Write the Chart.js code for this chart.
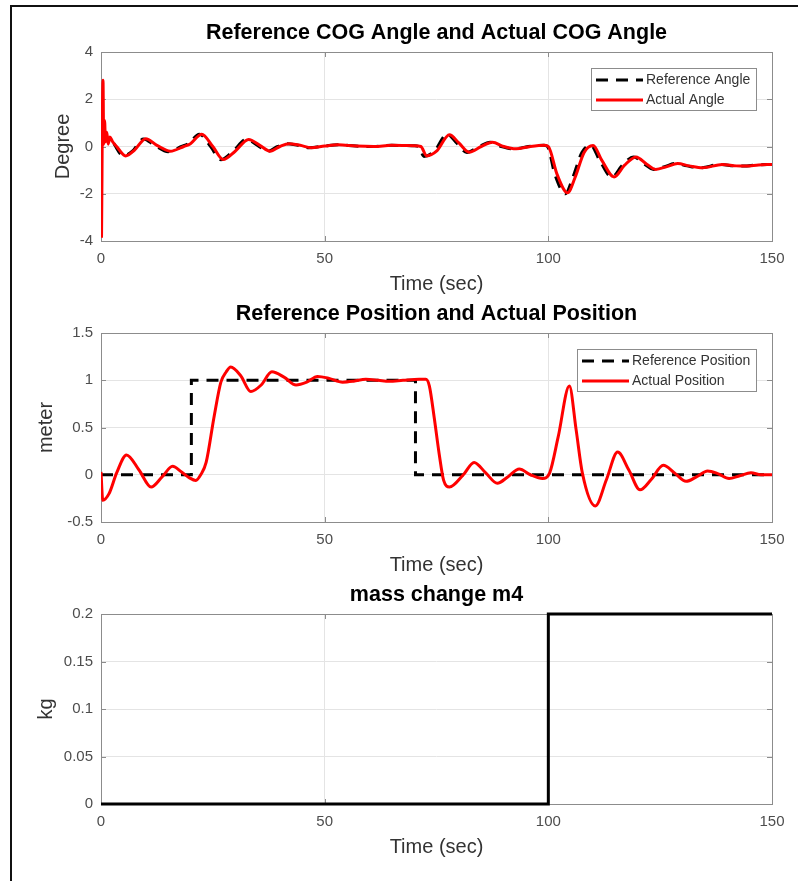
<!DOCTYPE html>
<html>
<head>
<meta charset="utf-8">
<script src="https://cdn.jsdelivr.net/npm/chart.js@4.4.0/dist/chart.umd.min.js"></script>
<style>
  html, body { margin: 0; padding: 0; background: #fff; }
  body { width: 798px; height: 881px; position: relative; overflow: hidden; }
  #frame { position: absolute; left: 10px; top: 5px; right: -5px; bottom: -5px;
           border-left: 2px solid #111; border-top: 2px solid #111; }
  canvas { position: absolute; left: 0; }
</style>
</head>
<body>
<div id="frame"></div>
<canvas id="cog" width="798" height="290" style="top:11px"></canvas>
<canvas id="pos" width="798" height="290" style="top:292px"></canvas>
<canvas id="mass" width="798" height="291" style="top:573px"></canvas>
<script>
// time axis (sec)
const timeTicks = [0, 50, 100, 150];

// COG angle (degree)
const angleRefT = [0, 1, 2.5, 5, 7, 9.5, 12, 15, 18, 19.5, 22, 24.5, 26.8, 29.5, 32.5, 35, 37.3, 39.5, 41.5, 44, 46.5, 50, 53, 57, 61, 65, 70, 71, 72.2, 74.5, 77.4, 79.5, 81.8, 84.5, 87, 89.5, 92.3, 95.5, 99, 99.8, 101.5, 103.8, 105.5, 107.5, 109.5, 111.5, 114.2, 116.5, 119.1, 121.5, 123.5, 126, 128.4, 131, 134, 138.4, 141.5, 143.7, 146.5, 150];
const angleRefV = [0, 0.35, 0.2, -0.4, -0.2, 0.32, 0.05, -0.22, 0, 0.12, 0.52, 0, -0.56, -0.2, 0.3, 0.05, -0.2, 0, 0.12, 0.05, -0.05, 0.02, 0.07, 0.02, 0, 0.05, 0.03, 0, -0.42, -0.2, 0.52, 0.15, -0.25, 0, 0.18, 0, -0.1, 0, 0.05, 0, -1.2, -2.0, -1.3, -0.25, 0.05, -0.6, -1.3, -0.8, -0.44, -0.75, -0.97, -0.85, -0.72, -0.82, -0.9, -0.76, -0.82, -0.83, -0.78, -0.76];
const angleActT = [0, 0.12, 0.3, 0.45, 0.6, 0.8, 1.0, 1.3, 1.6, 2.0, 2.6, 3.5, 5.5, 7.5, 10, 12.5, 15.5, 18.5, 20, 22.5, 25, 27.3, 30, 33, 35.5, 37.8, 40, 42, 44.5, 47, 50, 53, 57, 61, 65, 70, 71.5, 72.8, 75, 77.9, 80, 82.3, 85, 87.5, 90, 92.8, 96, 99.2, 100, 102, 104.3, 106, 108, 110, 112, 114.7, 117, 119.6, 122, 124, 126.5, 128.9, 131.5, 134.5, 138.9, 142, 144.2, 147, 150];
const angleActV = [0, -3.8, 1.2, 2.8, 0.1, 1.1, 0.2, 0.6, 0.1, 0.4, 0.2, 0, -0.4, -0.15, 0.33, 0.05, -0.2, 0, 0.12, 0.52, 0, -0.55, -0.2, 0.3, 0.05, -0.2, 0, 0.12, 0.05, -0.05, 0.02, 0.07, 0.02, 0, 0.05, 0.03, 0, -0.4, -0.2, 0.5, 0.15, -0.24, 0, 0.18, 0, -0.1, 0, 0.05, 0, -1.2, -1.96, -1.3, -0.25, 0.04, -0.6, -1.29, -0.8, -0.44, -0.75, -0.97, -0.85, -0.72, -0.82, -0.9, -0.76, -0.82, -0.83, -0.78, -0.76];

// position (meter)
const posRefT = [0, 20.2, 20.2, 70.3, 70.3, 150];
const posRefV = [0, 0, 1, 1, 0, 0];
const posActT = [0, 0.4, 1.8, 3.5, 5.7, 8.5, 11.2, 13.7, 16, 18, 19.7, 21.2, 22.3, 23.5, 25.3, 26.8, 28, 29, 31.2, 33.5, 35.8, 38.2, 41, 43.6, 46, 48.4, 51, 54, 56.5, 59.2, 62, 64.4, 67.5, 71.1, 72.6, 73.4, 74.5, 75.6, 76.6, 77.9, 81, 83.4, 86, 88.6, 91, 93.5, 96, 98.7, 100.3, 102.2, 104.7, 106.2, 107.6, 110.5, 113, 115.5, 118, 120.5, 123, 125.7, 128.2, 130.8, 133.2, 135.6, 138, 140.4, 142.8, 145.3, 147.5, 150];
const posActV = [0.03, -0.27, -0.2, 0.02, 0.21, 0.05, -0.13, -0.02, 0.09, 0.03, -0.03, -0.06, 0, 0.13, 0.62, 0.98, 1.09, 1.14, 1.05, 0.88, 0.95, 1.09, 1.03, 0.95, 0.98, 1.04, 1.02, 0.98, 0.99, 1.01, 1, 0.99, 1, 1.01, 1.01, 0.94, 0.6, 0.22, -0.06, -0.13, 0, 0.13, 0.02, -0.09, -0.02, 0.06, 0, -0.04, 0.02, 0.4, 0.94, 0.48, 0.02, -0.33, -0.05, 0.24, 0.05, -0.16, -0.05, 0.1, 0.02, -0.07, -0.02, 0.04, 0.01, -0.04, -0.01, 0.02, 0, 0];

// mass change m4 (kg)
const massT = [0, 100, 100, 150];
const massV = [0, 0, 0.2, 0.2];

const FONT = '"Liberation Sans", Arial, Helvetica, sans-serif';
Chart.defaults.font.family = FONT;
Chart.defaults.animation = false;

const xy = (t, v) => t.map((x, i) => ({x, y: v[i]}));
const fmt = v => String(+v.toFixed(2));

// MATLAB-like axes box with inner ticks (under the lines) and a boxed legend (on top)
const axesBox = {
  id: 'axesBox',
  beforeDatasetsDraw(chart) {
    const {ctx, chartArea: a, scales} = chart;
    ctx.save();
    ctx.strokeStyle = '#8c8c8c';
    ctx.lineWidth = 1;
    ctx.beginPath();
    scales.y.ticks.forEach(t => {
      const p = Math.round(scales.y.getPixelForValue(t.value)) + 0.5;
      ctx.moveTo(a.left, p); ctx.lineTo(a.left + 5, p);
      ctx.moveTo(a.right - 5, p); ctx.lineTo(a.right, p);
    });
    scales.x.ticks.forEach(t => {
      const p = Math.round(scales.x.getPixelForValue(t.value)) + 0.5;
      ctx.moveTo(p, a.bottom); ctx.lineTo(p, a.bottom - 5);
      ctx.moveTo(p, a.top); ctx.lineTo(p, a.top + 5);
    });
    ctx.stroke();
    ctx.strokeRect(Math.round(a.left) + 0.5, Math.round(a.top) + 0.5,
                   Math.round(a.right - a.left), Math.round(a.bottom - a.top));
    ctx.restore();
  },
  afterDraw(chart, args, opts) {
    if (!opts.legend) return;
    const {ctx, chartArea: a} = chart;
    const sets = chart.data.datasets;
    ctx.save();
    ctx.font = '14px ' + FONT;
    const textW = Math.max(...sets.map(d => ctx.measureText(d.label).width));
    const w = 5 + 47 + 3 + textW + 6, h = sets.length * 20 + 2;
    const x0 = Math.round(a.right - 16 - w), y0 = Math.round(a.top + 16);
    ctx.fillStyle = '#fff';
    ctx.fillRect(x0, y0, w, h);
    ctx.strokeStyle = '#8c8c8c';
    ctx.lineWidth = 1;
    ctx.strokeRect(x0 + 0.5, y0 + 0.5, Math.round(w), h);
    sets.forEach((d, i) => {
      const cy = y0 + 12 + i * 20;
      ctx.beginPath();
      ctx.setLineDash(d.borderDash || []);
      ctx.strokeStyle = d.borderColor;
      ctx.lineWidth = d.borderWidth;
      ctx.moveTo(x0 + 5, cy); ctx.lineTo(x0 + 52, cy);
      ctx.stroke();
      ctx.setLineDash([]);
      ctx.fillStyle = '#333';
      ctx.textAlign = 'left';
      ctx.textBaseline = 'middle';
      ctx.fillText(d.label, x0 + 55, cy);
    });
    ctx.restore();
  }
};

const refLine = (label, data, smooth) => ({
  label, data, order: 2,
  borderColor: '#000', borderWidth: 3, borderDash: [12, 8],
  pointRadius: 0, tension: 0, cubicInterpolationMode: smooth ? 'monotone' : 'default'
});
const actLine = (label, data) => ({
  label, data, order: 1,
  borderColor: '#ff0000', borderWidth: 3,
  pointRadius: 0, cubicInterpolationMode: 'monotone'
});

function config(title, yLabel, yTitlePad, y, datasets, legend) {
  return {
    type: 'line',
    data: {datasets},
    options: {
      responsive: false,
      events: [],
      layout: {padding: {top: 0, left: 0, right: 26, bottom: 0}},
      plugins: {
        legend: {display: false},
        tooltip: {enabled: false},
        title: {
          display: true, text: title, color: '#000', fullSize: false,
          font: {size: 21.5, weight: 'bold', lineHeight: '24px'},
          padding: {top: 10, bottom: 7}
        },
        axesBox: {legend}
      },
      scales: {
        x: {
          type: 'linear', min: timeTicks[0], max: timeTicks[timeTicks.length - 1],
          afterFit: s => { s.height = 60; },
          afterBuildTicks: s => { s.ticks = timeTicks.map(value => ({value})); },
          grid: {color: '#e4e4e4', drawTicks: false},
          border: {display: false},
          ticks: {color: '#4d4d4d', font: {size: 15}, padding: 9, maxRotation: 0, callback: fmt},
          title: {display: true, text: 'Time (sec)', color: '#333',
                  font: {size: 20, lineHeight: '24px'}, padding: {top: 0, bottom: 5}}
        },
        y: {
          min: y.min, max: y.max,
          afterFit: s => { s.width = 101; },
          grid: {color: '#e4e4e4', drawTicks: false},
          border: {display: false},
          ticks: {color: '#4d4d4d', font: {size: 15}, padding: 8, stepSize: y.step, callback: fmt},
          title: {display: true, text: yLabel, color: '#333',
                  font: {size: 20, lineHeight: '24px'}, padding: {top: yTitlePad, bottom: 0}}
        }
      }
    },
    plugins: [axesBox]
  };
}

new Chart(document.getElementById('cog'), config(
  'Reference COG Angle and Actual COG Angle', 'Degree', 51, {min: -4, max: 4, step: 2},
  [refLine('Reference Angle', xy(angleRefT, angleRefV), true),
   actLine('Actual Angle', xy(angleActT, angleActV))], true));

new Chart(document.getElementById('pos'), config(
  'Reference Position and Actual Position', 'meter', 34, {min: -0.5, max: 1.5, step: 0.5},
  [refLine('Reference Position', xy(posRefT, posRefV), false),
   actLine('Actual Position', xy(posActT, posActV))], true));

new Chart(document.getElementById('mass'), config(
  'mass change m4', 'kg', 34, {min: 0, max: 0.2, step: 0.05},
  [{label: 'm4', data: xy(massT, massV), borderColor: '#000', borderWidth: 3,
    pointRadius: 0, tension: 0, clip: 4}], false));
</script>
</body>
</html>
